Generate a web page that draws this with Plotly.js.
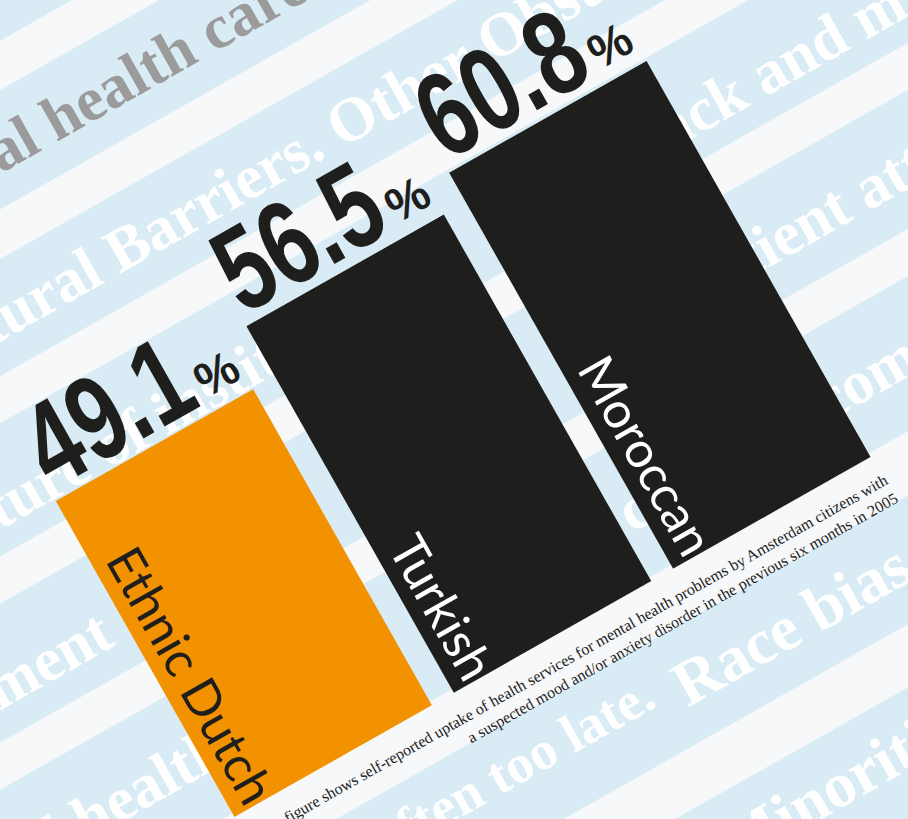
<!DOCTYPE html>
<html>
<head>
<meta charset="utf-8">
<script src="https://cdn.plot.ly/plotly-3.0.1.min.js"></script>
<style>
  html, body { margin:0; padding:0; width:908px; height:819px; overflow:hidden; background:#d9ebf4; }
  #stage { position:absolute; left:-196px; top:-240.5px; width:1300px; height:1300px;
           transform:rotate(-29.5deg); transform-origin:50% 50%; }
  #bg, #chart { position:absolute; left:0; top:0; width:1300px; height:1300px; }
</style>
</head>
<body>
<div id="stage"><div id="bg"></div><div id="chart"></div></div>
<script>
// ---- data ----
const categories = ['Ethnic Dutch', 'Turkish', 'Moroccan'];
const uptake = [49.1, 56.5, 60.8];
const barColors = ['#f29200', '#1e1e1c', '#1e1e1c'];
const labelColors = ['#1e1e1c', '#ffffff', '#ffffff'];
const captionLines = [
  'The figure shows self-reported uptake of health services for mental health problems by Amsterdam citizens with',
  'a suspected mood and/or anxiety disorder in the previous six months in 2005'
];
const bgPhrases = [
  'Mental health care', 'Cultural Barriers. Other Obstacles', 'Culture of institutions',
  'Black and minority', 'Treatment', 'patient attitudes', 'Mental health', 'cultural competence',
  'often too late.', 'Race bias in care', 'Minorities'
];

// ---- geometry of the tilted sheet (style only) ----
const W = 1300, H = 1300;
const ex = u => u + 456.5;
const ey = v => 70 - v;

// ---- background sheet: stripes + faint words ----
const whiteBands = [[-78,-35],[-225,-182],[-368,-327],[-525,-484],[-687,-646],[-878,-822],[-1045,-990],[-1215,-1160]];
const bgShapes = whiteBands.map(b => ({
  type:'rect', xref:'paper', yref:'paper', x0:0, x1:1,
  y0: 1 - ey(b[0]) / H, y1: 1 - ey(b[1]) / H,
  fillcolor:'#f6f8f9', line:{width:0}, layer:'below'
}));
const bgPlace = [
  [0, -228, -130, 62, '#9b9b9b'],
  [1, -276, -276, 62, '#ffffff'],
  [2, -360, -440, 62, '#ffffff'],
  [3,  449, -440, 62, '#ffffff'],
  [4, -495, -597, 62, '#ffffff'],
  [5,  448, -590, 62, '#ffffff'],
  [6, -546, -754, 62, '#ffffff'],
  [7,  285, -754, 62, '#ffffff'],
  [8,  -90, -920, 54, '#ffffff'],
  [9,  248, -932, 64, '#ffffff'],
  [10, 211, -1095, 64, '#ffffff']
];
const bgAnn = bgPlace.map(p => ({
  xref:'paper', yref:'paper', x: ex(p[1]) / W, y: 1 - ey(p[2]) / H,
  xanchor:'left', yanchor:'middle', showarrow:false, text: bgPhrases[p[0]],
  font:{family:'Liberation Serif, Times New Roman, serif', size:p[3], color:p[4], weight:700}
}));
Plotly.newPlot('bg', [], {
  width:W, height:H, margin:{l:0,r:0,t:0,b:0},
  paper_bgcolor:'#d9ebf4', plot_bgcolor:'rgba(0,0,0,0)',
  xaxis:{visible:false}, yaxis:{visible:false},
  shapes:bgShapes, annotations:bgAnn, showlegend:false
}, {staticPlot:true, displayModeBar:false});

// ---- chart ----
const mL = 246, mR = 298, mT = 100, mB = 404;
const plotW = W - mL - mR;
const bargap = 0.1;
const halfBar = plotW / categories.length * (1 - bargap) / 2;
const yRange = [2.926, 104.2];
const numFont = 'Liberation Sans, Arial, sans-serif';

const ann = [];
categories.forEach((c, i) => {
  ann.push({x:c, y:uptake[i], xref:'x', yref:'y', xshift:-halfBar, xanchor:'left', yanchor:'bottom',
    yshift:-16, showarrow:false, text:uptake[i].toFixed(1),
    font:{family:numFont, size:120, color:'#1e1e1c', weight:700}});
  ann.push({x:c, y:uptake[i], xref:'x', yref:'y', xshift:halfBar, xanchor:'right', yanchor:'bottom',
    yshift:3, showarrow:false, text:'%',
    font:{family:numFont, size:48, color:'#1e1e1c', weight:700}});
  ann.push({x:c, y:yRange[0], xref:'x', yref:'y', xshift:-halfBar + 33, xanchor:'center', yanchor:'bottom',
    showarrow:false, textangle:90, text:c,
    font:{family:'Lato, Noto Sans, sans-serif', size:50, color:labelColors[i]}});
});
ann.push({xref:'paper', yref:'paper', x:(plotW - 8) / plotW, y:0, xanchor:'right', yanchor:'top', yshift:-16,
  align:'right', showarrow:false, text:captionLines.join('<br>'),
  font:{family:'Liberation Serif, Times New Roman, serif', size:16, color:'#222222'}});

Plotly.newPlot('chart', [{
  type:'bar', x:categories, y:uptake, marker:{color:barColors, line:{width:0}},
  hoverinfo:'skip', cliponaxis:true
}], {
  width:W, height:H, margin:{l:mL, r:mR, t:mT, b:mB},
  paper_bgcolor:'rgba(0,0,0,0)', plot_bgcolor:'rgba(0,0,0,0)',
  bargap:bargap, showlegend:false,
  xaxis:{type:'category', range:[-0.5, 2.5], visible:false},
  yaxis:{range:yRange, visible:false},
  annotations:ann
}, {staticPlot:true, displayModeBar:false}).then(gd => {
  // condense the big value numerals (Futura-condensed look)
  gd.querySelectorAll('.annotation').forEach(g => {
    const k = +g.getAttribute('data-index');
    if (k < 9 && k % 3 === 0) {
      const t = g.querySelector('text');
      if (t) {
        t.style.transformBox = 'fill-box';
        t.style.transformOrigin = '0% 100%';
        t.style.transform = 'scaleX(0.74)';
      }
    }
  });
});
</script>
</body>
</html>
